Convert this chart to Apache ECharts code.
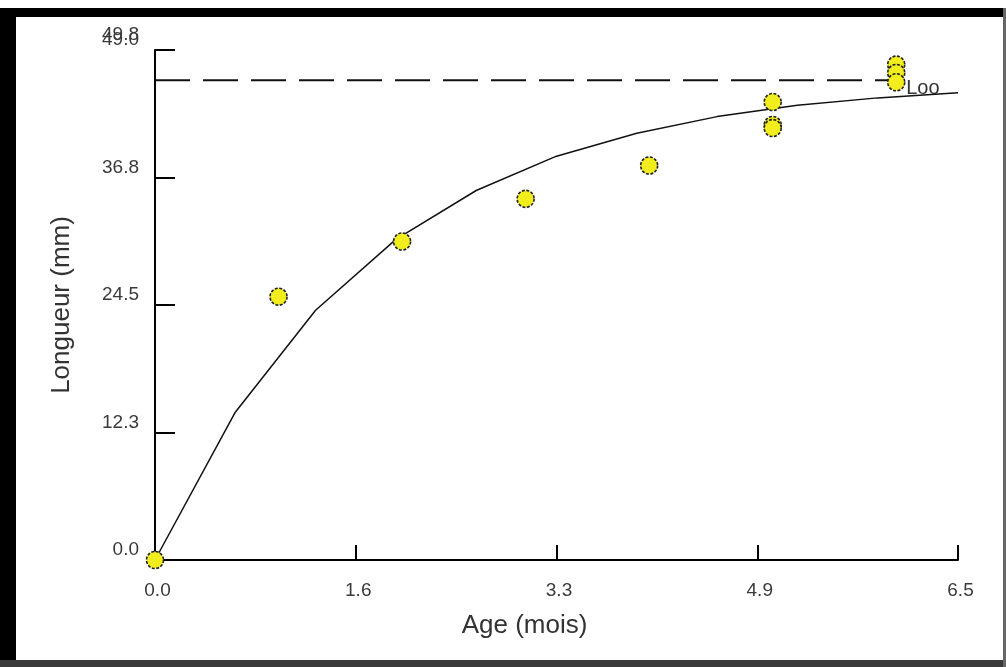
<!DOCTYPE html>
<html>
<head>
<meta charset="utf-8">
<script src="https://cdn.jsdelivr.net/npm/echarts@6/dist/echarts.min.js"></script>
<style>
html,body{margin:0;padding:0;background:#fff;}
#c{width:1006px;height:667px;}
</style>
</head>
<body>
<div id="c"></div>
<script>
// ---- data ----
const xTicks = [0, 1.625, 3.25, 4.875, 6.5];
const xTickLabels = ['0.0', '1.6', '3.3', '4.9', '6.5'];
const yTicks = [0, 12.25, 24.5, 36.75, 49];
const yTickLabels = ['0.0', '12.3', '24.5', '36.8', '49.0'];
const yExtraLabel = '49.8';

const ageObs = [0, 1, 2, 3, 4, 5, 5, 5, 6, 6, 6];
const lenObs = [0, 25.3, 30.6, 34.7, 37.9, 44.0, 41.8, 41.5, 47.6, 46.8, 45.9];

const curveAge = [0, 0.65, 1.3, 1.95, 2.6, 3.25, 3.9, 4.55, 5.2, 5.85, 6.5];
const curveLen = [0, 14.2, 24.0, 30.8, 35.5, 38.8, 41.0, 42.6, 43.7, 44.4, 44.9];

const linfValue = 46.1;
const linfAges = [0, 6.0];
const linfLabel = 'Loo';

// ---- chart ----
const chart = echarts.init(document.getElementById('c'));
function lookup(ticks, labels, v) {
  let best = 0;
  for (let i = 0; i < ticks.length; i++) if (Math.abs(ticks[i] - v) < Math.abs(ticks[best] - v)) best = i;
  return labels[best];
}
const font = 'Liberation Sans, Arial, sans-serif';
const option = {
  animation: false,
  backgroundColor: '#fff',
  grid: {left: 155, top: 50, width: 803, height: 510, containLabel: false},
  xAxis: {
    type: 'value', min: xTicks[0], max: xTicks[xTicks.length - 1], interval: xTicks[1] - xTicks[0],
    splitLine: {show: false},
    axisLine: {show: true, onZero: false, lineStyle: {color: '#000', width: 2}},
    axisTick: {show: true, inside: true, length: 15, lineStyle: {color: '#000', width: 2}},
    axisLabel: {margin: 21, fontSize: 19, lineHeight: 20, color: '#3a3a3a', fontFamily: font,
      padding: [0, 0, 0, 5],
      formatter: v => lookup(xTicks, xTickLabels, v)},
    name: 'Age (mois)', nameLocation: 'middle', nameGap: 53,
    nameTextStyle: {fontSize: 26, lineHeight: 26, color: '#333', fontFamily: font, padding: [0, 64, 0, 0]}
  },
  yAxis: {
    type: 'value', min: yTicks[0], max: yTicks[yTicks.length - 1], interval: yTicks[1] - yTicks[0],
    splitLine: {show: false},
    axisLine: {show: true, onZero: false, lineStyle: {color: '#000', width: 2}},
    axisTick: {show: true, inside: true, length: 20, lineStyle: {color: '#000', width: 2}},
    axisLabel: {margin: 16, fontSize: 19, color: '#3a3a3a', fontFamily: font, verticalAlign: 'bottom', lineHeight: 20,
      formatter: v => lookup(yTicks, yTickLabels, v)},
    name: 'Longueur (mm)', nameLocation: 'middle', nameGap: 80, nameRotate: 90,
    nameTextStyle: {fontSize: 26, lineHeight: 26, color: '#333', fontFamily: font}
  },
  series: [
    {
      type: 'line', name: 'Loo', data: linfAges.map(a => [a, linfValue]), symbol: 'none', silent: true,
      lineStyle: {color: '#111', width: 2, type: [35, 13]},
      endLabel: {show: true, formatter: linfLabel, color: '#333', fontSize: 20, fontFamily: font, distance: 10, offset: [0, 8]},
      z: 2
    },
    {
      type: 'line', name: 'fit', data: curveAge.map((a, i) => [a, curveLen[i]]), symbol: 'none', silent: true,
      lineStyle: {color: '#111', width: 1.5}, z: 3
    },
    {
      type: 'scatter', name: 'obs', data: ageObs.map((a, i) => [a, lenObs[i]]), symbolSize: 17,
      itemStyle: {color: '#f2ee1e', borderColor: '#222', borderWidth: 1.6, borderType: [3, 1.5], opacity: 1},
      z: 5
    }
  ]
};
chart.setOption(option);

const topPix = chart.convertToPixel({gridIndex: 0}, [0, yTicks[yTicks.length - 1]]);
chart.setOption({
  graphic: [
    {type: 'rect', shape: {x: 0, y: 8, width: 1006, height: 9}, style: {fill: '#000'}, silent: true},
    {type: 'rect', shape: {x: 0, y: 8, width: 16, height: 659}, style: {fill: '#000'}, silent: true},
    {type: 'rect', shape: {x: 0, y: 660, width: 1006, height: 7}, style: {fill: '#3a3a3a'}, silent: true},
    {type: 'rect', shape: {x: 1003, y: 8, width: 3, height: 659}, style: {fill: '#666'}, silent: true},
    {type: 'text', x: topPix[0] - 16, y: topPix[1] - 5, silent: true,
      style: {text: yExtraLabel, fontSize: 19, fontFamily: font, fill: '#3a3a3a', align: 'right', verticalAlign: 'bottom', lineHeight: 20}}
  ]
});
</script>
</body>
</html>
